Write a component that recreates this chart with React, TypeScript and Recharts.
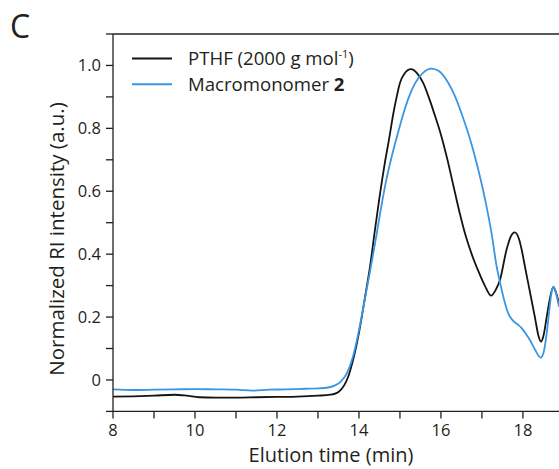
import { LineChart, Line, XAxis, YAxis, ReferenceLine } from "recharts";

// PTHF (2000 g/mol) trace
const pthfTime = [
  8, 8.5, 9, 9.5, 9.8, 10.1, 10.5, 11, 11.5, 12, 12.5, 13, 13.3, 13.45, 13.55,
  13.65, 13.75, 13.85, 14.0, 14.15, 14.27, 14.39, 14.5, 14.63, 14.74, 14.84,
  14.92, 15.0, 15.1, 15.27, 15.42, 15.57, 15.7, 15.83, 16.0, 16.15, 16.3, 16.45,
  16.6, 16.75, 16.9, 17.07, 17.22, 17.35, 17.44, 17.6, 17.7, 17.8, 17.9, 17.97,
  18.05, 18.13, 18.29, 18.38, 18.44, 18.5, 18.58, 18.66, 18.74, 18.8, 18.88,
];
const pthfIntensity = [
  -0.053, -0.052, -0.05, -0.047, -0.05, -0.055, -0.056, -0.056, -0.055, -0.054,
  -0.053, -0.05, -0.047, -0.042, -0.032, -0.015, 0.015, 0.06, 0.15, 0.265, 0.36,
  0.477, 0.58, 0.689, 0.77, 0.848, 0.9, 0.944, 0.972, 0.988, 0.975, 0.944, 0.9,
  0.85, 0.78, 0.705, 0.62, 0.535, 0.46, 0.4, 0.35, 0.3, 0.268, 0.29, 0.318, 0.414,
  0.455, 0.469, 0.45, 0.414, 0.36, 0.307, 0.201, 0.14, 0.122, 0.14, 0.2, 0.26,
  0.295, 0.28, 0.244,
];

// Macromonomer 2 trace
const macroTime = [
  8, 8.5, 9, 9.5, 10, 10.5, 11, 11.4, 11.8, 12.2, 12.7, 13.0, 13.25, 13.4, 13.55,
  13.7, 13.85, 13.98, 14.12, 14.27, 14.4, 14.53, 14.65, 14.78, 14.93, 15.08,
  15.22, 15.37, 15.55, 15.77, 15.95, 16.18, 16.35, 16.5, 16.7, 16.87, 17.0, 17.1,
  17.23, 17.36, 17.45, 17.54, 17.64, 17.76, 17.88, 17.97, 18.08, 18.17, 18.3,
  18.43, 18.5, 18.58, 18.65, 18.7, 18.75, 18.8, 18.88,
];
const macroIntensity = [
  -0.03, -0.032, -0.031, -0.03, -0.029, -0.03, -0.031, -0.034, -0.031, -0.03,
  -0.028, -0.027, -0.024, -0.018, -0.006, 0.02, 0.072, 0.145, 0.24, 0.345, 0.44,
  0.54, 0.625, 0.7, 0.775, 0.845, 0.9, 0.944, 0.975, 0.99, 0.982, 0.944, 0.9,
  0.848, 0.77, 0.69, 0.62, 0.56, 0.47, 0.36, 0.305, 0.255, 0.212, 0.188, 0.176,
  0.165, 0.145, 0.127, 0.095, 0.071, 0.085, 0.148, 0.23, 0.28, 0.297, 0.28, 0.233,
];

const xTicks = [8, 9, 10, 11, 12, 13, 14, 15, 16, 17, 18];
const xLabelled = [8, 10, 12, 14, 16, 18];
const yTicks = [-0.1, 0, 0.1, 0.2, 0.3, 0.4, 0.5, 0.6, 0.7, 0.8, 0.9, 1.0, 1.1];
const yLabelled = ["0", "0.2", "0.4", "0.6", "0.8", "1.0"];

const pthfData = pthfTime.map((t, i) => ({ t, v: pthfIntensity[i] }));
const macroData = macroTime.map((t, i) => ({ t, v: macroIntensity[i] }));

const FONT = "'Open Sans', 'Noto Sans', sans-serif";
const AXIS = "#231f20";
const BLACK = "#141414";
const BLUE = "#3a96e2";

function XTitle() {
  return (
    <text x={331} y={462} textAnchor="middle" fontFamily={FONT} fontSize={20} fill={AXIS}>
      Elution time (min)
    </text>
  );
}

function YTitle() {
  return (
    <text
      x={64}
      y={239}
      transform="rotate(-90 64 239)"
      textAnchor="middle"
      fontFamily={FONT}
      fontSize={20.5}
      fill={AXIS}
    >
      Normalized RI intensity (a.u.)
    </text>
  );
}

export default function App() {
  const fmtX = (v: number) => (xLabelled.includes(v) ? String(v) : "");
  const fmtY = (v: number) => {
    const s = v === 0 ? "0" : v.toFixed(1);
    return yLabelled.includes(s) ? s : "";
  };

  return (
    <div style={{ position: "absolute", left: 0, top: 0, width: 559, height: 469, background: "#fff" }}>
      <LineChart
        width={559}
        height={469}
        margin={{ top: 34, right: 0, left: 53, bottom: 0 }}
      >
        <XAxis
          dataKey="t"
          type="number"
          domain={[8, 18.88]}
          allowDataOverflow
          ticks={xTicks}
          interval={0}
          tickFormatter={fmtX}
          height={57.6}
          tickSize={7}
          tickMargin={6}
          stroke={AXIS}
          strokeWidth={1.3}
          tick={{ fontSize: 16.5, fontFamily: FONT, fill: AXIS }}
          label={<XTitle />}
        />
        <YAxis
          type="number"
          domain={[-0.1, 1.1]}
          allowDataOverflow
          ticks={yTicks}
          interval={0}
          tickFormatter={fmtY}
          width={60}
          tickSize={7}
          tickMargin={5}
          stroke={AXIS}
          strokeWidth={1.3}
          tick={{ fontSize: 16.5, fontFamily: FONT, fill: AXIS }}
          label={<YTitle />}
        />
        <ReferenceLine y={1.1} stroke={AXIS} strokeWidth={1.3} />
        <Line
          data={pthfData}
          dataKey="v"
          type="monotone"
          stroke={BLACK}
          strokeWidth={1.8}
          dot={false}
          isAnimationActive={false}
        />
        <Line
          data={macroData}
          dataKey="v"
          type="monotone"
          stroke={BLUE}
          strokeWidth={1.8}
          dot={false}
          isAnimationActive={false}
        />
      </LineChart>
      <svg
        width={559}
        height={469}
        style={{ position: "absolute", left: 0, top: 0, pointerEvents: "none" }}
      >
        <text x={10} y={38} fontFamily={FONT} fontSize={32} fill={AXIS}>
          C
        </text>
        <line x1={132} y1={58.5} x2={172} y2={58.5} stroke={BLACK} strokeWidth={2} />
        <line x1={132} y1={84.3} x2={172} y2={84.3} stroke={BLUE} strokeWidth={2} />
        <text x={188} y={65} fontFamily={FONT} fontSize={18.6} fill={AXIS}>
          PTHF (2000 g mol
          <tspan fontSize={11} dy={-7}>-1</tspan>
          <tspan dy={7}>)</tspan>
        </text>
        <text x={188} y={90.5} fontFamily={FONT} fontSize={18.6} fill={AXIS}>
          Macromonomer <tspan fontWeight="bold">2</tspan>
        </text>
      </svg>
    </div>
  );
}
